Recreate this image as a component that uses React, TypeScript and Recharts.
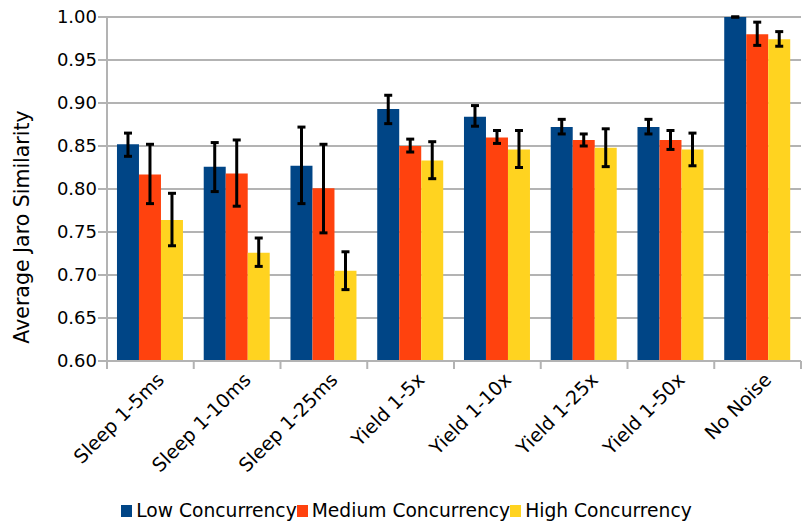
import React from "react";
import {
  Bar,
  BarChart,
  CartesianGrid,
  ErrorBar,
  Legend,
  XAxis,
  YAxis,
} from "recharts";

const categories = [
  "Sleep 1-5ms",
  "Sleep 1-10ms",
  "Sleep 1-25ms",
  "Yield 1-5x",
  "Yield 1-10x",
  "Yield 1-25x",
  "Yield 1-50x",
  "No Noise",
];

const lowValues = [0.852, 0.826, 0.827, 0.893, 0.884, 0.872, 0.872, 1.0];
const lowErrors = [
  [0.014, 0.013], [0.029, 0.028], [0.044, 0.045], [0.017, 0.016],
  [0.011, 0.013], [0.008, 0.009], [0.008, 0.009], [0, 0],
];
const mediumValues = [0.817, 0.818, 0.801, 0.85, 0.86, 0.857, 0.857, 0.98];
const mediumErrors = [
  [0.034, 0.035], [0.038, 0.039], [0.052, 0.051], [0.007, 0.008],
  [0.007, 0.008], [0.007, 0.007], [0.011, 0.011], [0.013, 0.014],
];
const highValues = [0.764, 0.726, 0.705, 0.833, 0.846, 0.848, 0.846, 0.974];
const highErrors = [
  [0.03, 0.031], [0.016, 0.017], [0.022, 0.022], [0.021, 0.022],
  [0.021, 0.022], [0.022, 0.022], [0.019, 0.019], [0.008, 0.009],
];
const yTicks = [0.6, 0.65, 0.7, 0.75, 0.8, 0.85, 0.9, 0.95, 1.0];

const series = [
  { key: "low", name: "Low Concurrency", color: "#004586" },
  { key: "medium", name: "Medium Concurrency", color: "#ff420e" },
  { key: "high", name: "High Concurrency", color: "#ffd320" },
];

const data = categories.map((name, i) => ({
  name,
  low: lowValues[i],
  lowErr: lowErrors[i],
  medium: mediumValues[i],
  mediumErr: mediumErrors[i],
  high: highValues[i],
  highErr: highErrors[i],
}));

const W = 802;
const H = 521;
const Y_AXIS_W = 107;
const RIGHT = 1;
const BAND = (W - Y_AXIS_W - RIGHT) / categories.length;
const FONT = "'DejaVu Sans', Verdana, sans-serif";
const GRID = "#b3b3b3";

const XTick = ({ x, y, payload, index }: any) => (
  <g>
    <line x1={x - BAND / 2} x2={x - BAND / 2} y1={y} y2={y + 8} stroke={GRID} strokeWidth={2} />
    {index === categories.length - 1 && (
      <line x1={x + BAND / 2} x2={x + BAND / 2} y1={y} y2={y + 8} stroke={GRID} strokeWidth={2} />
    )}
    <text
      transform={`translate(${x + 15},${y + 20}) rotate(-45)`}
      textAnchor="end"
      fontSize={19}
      fontFamily={FONT}
      fill="#000"
    >
      {payload.value}
    </text>
  </g>
);

const YLabel = ({ viewBox }: any) => {
  const cx = 22;
  const cy = viewBox.y + viewBox.height / 2 + 38;
  return (
    <text
      transform={`translate(${cx},${cy}) rotate(-90)`}
      textAnchor="middle"
      dominantBaseline="central"
      fontSize={20.5}
      fontFamily={FONT}
      fill="#000"
    >
      Average Jaro Similarity
    </text>
  );
};

const LegendContent = () => (
  <div
    style={{
      display: "flex",
      justifyContent: "center",
      alignItems: "center",
      fontFamily: FONT,
      fontSize: 18.7,
      color: "#000",
      paddingLeft: 12,
    }}
  >
    {series.map((s) => (
      <span key={s.key} style={{ display: "flex", alignItems: "center" }}>
        <span style={{ width: 11, height: 12, background: s.color, marginRight: 4 }} />
        {s.name}
      </span>
    ))}
  </div>
);

export default function App() {
  return (
    <div style={{ position: "absolute", left: 0, top: 0, width: W, height: H, background: "#fff" }}>
      <BarChart
        width={W}
        height={H}
        data={data}
        margin={{ top: 17, right: RIGHT, left: 0, bottom: 0 }}
        barCategoryGap="11.5%"
        barGap={0}
      >
        <CartesianGrid vertical={false} stroke={GRID} strokeWidth={2} />
        <XAxis
          dataKey="name"
          interval={0}
          height={139}
          tickLine={false}
          tickSize={0}
          tickMargin={0}
          axisLine={{ stroke: GRID, strokeWidth: 2 }}
          tick={<XTick />}
        />
        <YAxis
          width={Y_AXIS_W}
          domain={[0.6, 1.0]}
          ticks={yTicks}
          allowDataOverflow
          tickFormatter={(v: number) => v.toFixed(2)}
          tickSize={9}
          tickMargin={1}
          tickLine={{ stroke: GRID, strokeWidth: 2 }}
          axisLine={{ stroke: GRID, strokeWidth: 2 }}
          tick={{ fontSize: 18, fontFamily: FONT, fill: "#000" }}
          label={<YLabel />}
        />
        <Legend verticalAlign="bottom" content={<LegendContent />} />
        {series.map((s) => (
          <Bar key={s.key} dataKey={s.key} name={s.name} fill={s.color} isAnimationActive={false}>
            <ErrorBar
              dataKey={`${s.key}Err`}
              width={4}
              stroke="#000"
              strokeWidth={3}
              isAnimationActive={false}
            />
          </Bar>
        ))}
      </BarChart>
    </div>
  );
}
